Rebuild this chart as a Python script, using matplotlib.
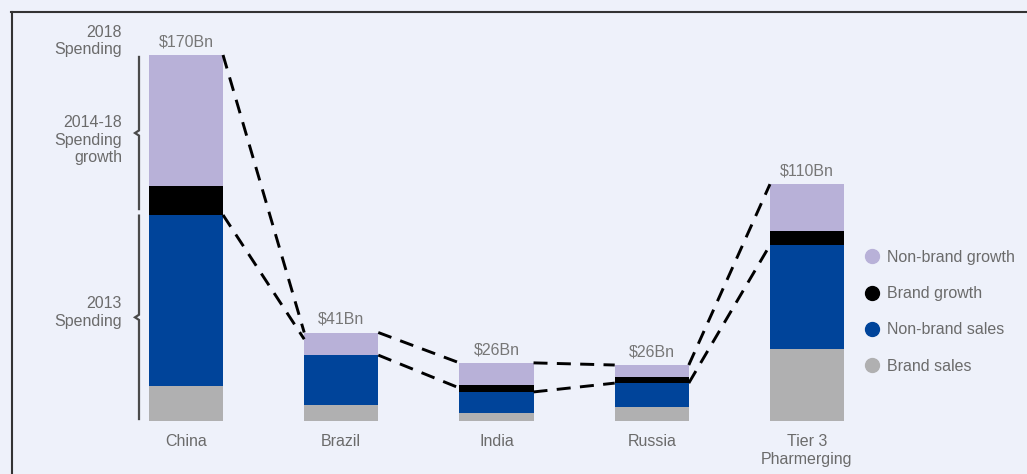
import matplotlib
matplotlib.use("Agg")
import numpy as np
import matplotlib.pyplot as plt
from matplotlib.lines import Line2D

plt.rcParams["font.family"] = ["Liberation Sans", "DejaVu Sans"]

# ----------------------------------------------------------------------
# Data ($Bn)
# ----------------------------------------------------------------------
markets = ["China", "Brazil", "India", "Russia", "Tier 3\nPharmerging"]
totals = ["$170Bn", "$41Bn", "$26Bn", "$26Bn", "$110Bn"]
brand_sales = [16.3, 7.4, 3.7, 6.5, 33.4]
nonbrand_sales = [79.4, 23.2, 9.8, 11.1, 48.3]
brand_growth = [13.6, 0.0, 3.3, 2.8, 6.5]
nonbrand_growth = [60.7, 10.5, 10.2, 5.6, 21.8]
# end of the lower dashed link on the next bar (the original hits Brazil near its top)
lower_link_end = [38.0, 15.3, 17.6, 81.7]

series = [
    ("Brand sales", brand_sales, "#b0b0b1"),
    ("Non-brand sales", nonbrand_sales, "#00449a"),
    ("Brand growth", brand_growth, "#000000"),
    ("Non-brand growth", nonbrand_growth, "#b8b1d8"),
]

BG = "#eef1fa"
TXT = "#6b6b6b"
W, H = 1027, 474

fig = plt.figure(figsize=(W / 100, H / 100), dpi=100, facecolor=BG)
ax = fig.add_axes([0, 0, 1, 1])
ax.set_facecolor(BG)

# pixel -> data mapping: bar centres every 155.25 px starting at 186 px,
# baseline at 421 px, 2.153 px per $Bn
x0_px, dx_px, base_px, k = 186, 155.25, 421, 2.153
ax.set_xlim(-x0_px / dx_px, (W - x0_px) / dx_px)
ax.set_ylim(-(H - base_px) / k, base_px / k)
ax.axis("off")

x = np.arange(len(markets))
bw = 0.477
bottom = np.zeros(len(markets))
for name, vals, col in series:
    ax.bar(x, vals, bw, bottom=bottom, color=col, linewidth=0)
    bottom = bottom + np.array(vals)
top = bottom
base2013 = np.array(brand_sales) + np.array(nonbrand_sales)

# dashed links between bars
dash = dict(color="black", lw=2.1, linestyle=(0, (4.8, 3.2)))
for i in range(len(markets) - 1):
    xl, xr = x[i] + bw / 2, x[i + 1] - bw / 2
    ax.plot([xl, xr], [top[i], top[i + 1]], **dash)
    ax.plot([xl, xr], [base2013[i], lower_link_end[i]], **dash)

# value labels and category labels
for i in range(len(markets)):
    ax.text(x[i], top[i] + 2.6, totals[i], ha="center", va="bottom",
            fontsize=11.5, color="#777777")
    ax.text(x[i], -6.2, markets[i], ha="center", va="top",
            fontsize=11.5, color=TXT, linespacing=1.25)

# left-hand braces
bx = (139 - x0_px) / dx_px
nx = (135 - x0_px) / dx_px
braces = [(top[0] - 0.9, base2013[0] + brand_growth[0] * 0.2),
          (base2013[0] - 0.3, 0.9)]
for hi, lo in braces:
    mid = (hi + lo) / 2
    ax.plot([bx, bx, nx, bx, bx], [hi, mid + 1.2, mid, mid - 1.2, lo],
            color="#4a4a4a", lw=1.6, solid_joinstyle="miter")

lx = (122 - x0_px) / dx_px
side_labels = [("2018\nSpending", 176.5), ("2014-18\nSpending\ngrowth", 130.5),
               ("2013\nSpending", 50.3)]
for txt, yv in side_labels:
    ax.text(lx, yv, txt, ha="right", va="center", fontsize=11.5,
            color=TXT, linespacing=1.22)

# legend
handles = [Line2D([], [], marker="o", linestyle="", markersize=10,
                  markerfacecolor=c, markeredgecolor=c, label=n)
           for n, _, c in series[::-1]]
leg = ax.legend(handles=handles, loc="upper left", frameon=False,
                bbox_to_anchor=(864 / W, 1 - 250 / H),
                bbox_transform=fig.transFigure, fontsize=11.5,
                handlelength=1.0, handletextpad=0.45, labelspacing=1.33,
                borderpad=0, borderaxespad=0)
for t in leg.get_texts():
    t.set_color(TXT)

# frame (cropped box, only top and left edges visible)
fig.add_artist(Line2D([11.5 / W, 11.5 / W], [0, 1 - 12 / H], color="#333333",
                      lw=1.5, transform=fig.transFigure))
fig.add_artist(Line2D([11 / W, 1], [1 - 12 / H, 1 - 12 / H], color="#333333",
                      lw=1.5, transform=fig.transFigure))

fig.savefig("out.png", dpi=100, facecolor=BG)
